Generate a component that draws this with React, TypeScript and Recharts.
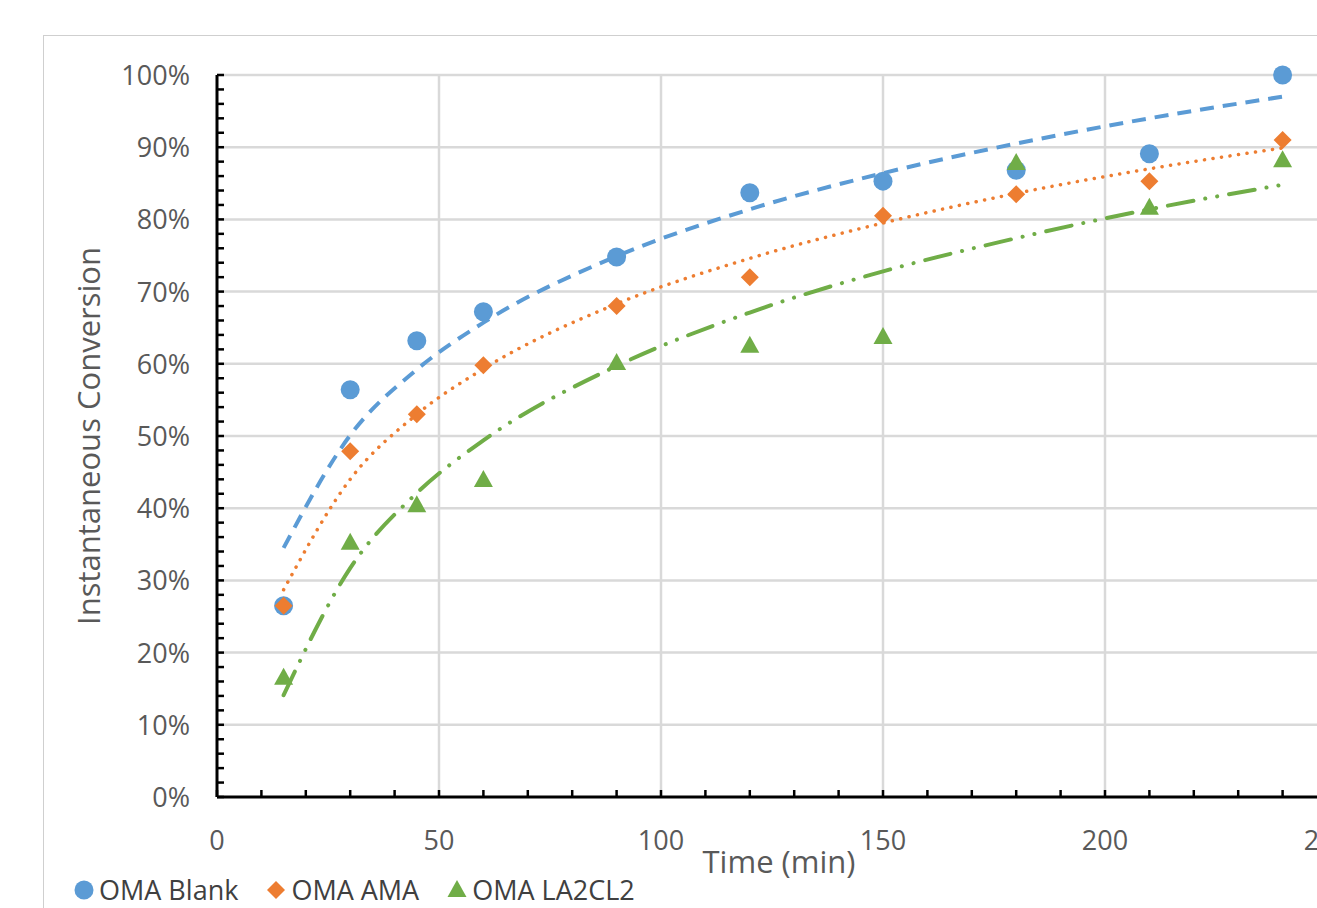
import { ComposedChart, Scatter, Line, XAxis, YAxis, ReferenceLine } from "recharts";

const TIMES = [15, 30, 45, 60, 90, 120, 150, 180, 210, 240];

// measured conversions (%)
const BLANK = [26.5, 56.4, 63.2, 67.2, 74.8, 83.7, 85.3, 86.8, 89.1, 100];
const AMA = [26.5, 47.9, 53.0, 59.8, 68.0, 72.0, 80.5, 83.5, 85.3, 91.0];
const LA2CL2 = [16.5, 35.2, 40.4, 43.9, 60.1, 62.5, 63.7, 87.8, 81.6, 88.2];

// trendline values at each time
const BLANK_FIT = [34.5, 50.1, 59.2, 65.7, 74.9, 81.4, 86.4, 90.5, 94.0, 97.0];
const AMA_FIT = [28.7, 44.0, 53.0, 59.3, 68.3, 74.6, 79.5, 83.6, 87.0, 89.9];
const LA2CL2_FIT = [14.1, 31.7, 42.1, 49.4, 59.7, 67.1, 72.8, 77.4, 81.4, 84.8];

const X_TICKS = [0, 10, 20, 30, 40, 50, 60, 70, 80, 90, 100, 110, 120, 130, 140, 150, 160, 170, 180, 190, 200, 210, 220, 230, 240, 250];
const X_MAJOR = [50, 100, 150, 200];
const Y_TICKS = Array.from({ length: 51 }, (_, i) => i * 2);
const Y_MAJOR = [10, 20, 30, 40, 50, 60, 70, 80, 90, 100];

const SERIES = [
  { name: "OMA Blank", color: "#5b9bd5", shape: "circle" },
  { name: "OMA AMA", color: "#ed7d31", shape: "diamond" },
  { name: "OMA LA2CL2", color: "#70ad47", shape: "triangle" },
];

const data = TIMES.map((t, i) => ({
  t,
  blank: BLANK[i],
  ama: AMA[i],
  la: LA2CL2[i],
  blankFit: BLANK_FIT[i],
  amaFit: AMA_FIT[i],
  laFit: LA2CL2_FIT[i],
}));

const FONT = "'Open Sans', 'Noto Sans', sans-serif";
const TEXT = "#595959";
const GRID = "#d9d9d9";

function Marker({ cx, cy, shape, color }: any) {
  if (cx == null || cy == null) return null;
  if (shape === "circle") return <circle cx={cx} cy={cy} r={9.5} fill={color} />;
  if (shape === "diamond")
    return <polygon points={`${cx},${cy - 9} ${cx + 9},${cy} ${cx},${cy + 9} ${cx - 9},${cy}`} fill={color} />;
  return <polygon points={`${cx},${cy - 10} ${cx + 9.5},${cy + 7} ${cx - 9.5},${cy + 7}`} fill={color} />;
}

function XTick({ x, y, payload }: any) {
  const axisY = y - 8;
  const v = payload.value;
  return (
    <g>
      <line x1={x} x2={x} y1={axisY - 7} y2={axisY} stroke="#000" strokeWidth={2.5} />
      {v % 50 === 0 && (
        <text x={x} y={axisY + 53} textAnchor="middle" fill={TEXT} fontSize={27} fontFamily={FONT}>
          {v}
        </text>
      )}
    </g>
  );
}

function YTick({ x, y, payload }: any) {
  const axisX = x + 8;
  const v = payload.value;
  return (
    <g>
      <line x1={axisX} x2={axisX + 7} y1={y} y2={y} stroke="#000" strokeWidth={2.5} />
      {v % 10 === 0 && (
        <text x={axisX - 27} y={y + 10} textAnchor="end" fill={TEXT} fontSize={27} fontFamily={FONT}>
          {`${v}%`}
        </text>
      )}
    </g>
  );
}

export default function App() {
  return (
    <div
      style={{
        position: "absolute",
        left: 0,
        top: 0,
        width: 1317,
        height: 908,
        overflow: "hidden",
        background: "#fff",
      }}
    >
      <div
        style={{
          position: "absolute",
          left: 43,
          top: 35,
          width: 1400,
          height: 1000,
          border: "1.5px solid #cfcfcf",
        }}
      />
      <div style={{ position: "absolute", left: 0, top: 0 }}>
        <ComposedChart
          width={1360}
          height={908}
          data={data}
          margin={{ top: 75, right: 33, bottom: 51, left: 157 }}
        >
          {X_MAJOR.map((v) => (
            <ReferenceLine key={`vx${v}`} x={v} stroke={GRID} strokeWidth={2.5} />
          ))}
          {Y_MAJOR.map((v) => (
            <ReferenceLine key={`hy${v}`} y={v} stroke={GRID} strokeWidth={2.5} />
          ))}
          <XAxis
            type="number"
            dataKey="t"
            domain={[0, 250]}
            ticks={X_TICKS}
            interval={0}
            height={60}
            tickLine={false}
            axisLine={{ stroke: "#000", strokeWidth: 3 }}
            tick={<XTick />}
            label={{
              content: ({ viewBox }: any) => (
                <text
                  x={viewBox.x + viewBox.width / 2 + 7}
                  y={viewBox.y + 76}
                  textAnchor="middle"
                  fill={TEXT}
                  fontSize={31}
                  fontFamily={FONT}
                >
                  Time (min)
                </text>
              ),
            }}
          />
          <YAxis
            type="number"
            domain={[0, 100]}
            ticks={Y_TICKS}
            interval={0}
            width={60}
            tickLine={false}
            axisLine={{ stroke: "#000", strokeWidth: 3 }}
            tick={<YTick />}
            label={{
              content: ({ viewBox }: any) => {
                const cx = viewBox.x - 65;
                const cy = viewBox.y + viewBox.height / 2;
                return (
                  <text
                    x={cx}
                    y={cy}
                    transform={`rotate(-90 ${cx} ${cy})`}
                    textAnchor="middle"
                    dominantBaseline="middle"
                    fill={TEXT}
                    fontSize={31}
                    fontFamily={FONT}
                  >
                    Instantaneous Conversion
                  </text>
                );
              },
            }}
          />
          <Scatter
            name={SERIES[0].name}
            dataKey="blank"
            isAnimationActive={false}
            shape={(p: any) => <Marker {...p} shape="circle" color={SERIES[0].color} />}
          />
          <Scatter
            name={SERIES[1].name}
            dataKey="ama"
            isAnimationActive={false}
            shape={(p: any) => <Marker {...p} shape="diamond" color={SERIES[1].color} />}
          />
          <Scatter
            name={SERIES[2].name}
            dataKey="la"
            isAnimationActive={false}
            shape={(p: any) => <Marker {...p} shape="triangle" color={SERIES[2].color} />}
          />
          <Line
            type="monotone"
            dataKey="blankFit"
            stroke={SERIES[0].color}
            strokeWidth={4}
            strokeDasharray="14 9"
            dot={false}
            activeDot={false}
            legendType="none"
            isAnimationActive={false}
          />
          <Line
            type="monotone"
            dataKey="amaFit"
            stroke={SERIES[1].color}
            strokeWidth={3.5}
            strokeLinecap="round"
            strokeDasharray="0.1 8.5"
            dot={false}
            activeDot={false}
            legendType="none"
            isAnimationActive={false}
          />
          <Line
            type="monotone"
            dataKey="laFit"
            stroke={SERIES[2].color}
            strokeWidth={4}
            strokeLinecap="round"
            strokeDasharray="26 12 0.1 12 0.1 12"
            dot={false}
            activeDot={false}
            legendType="none"
            isAnimationActive={false}
          />
        </ComposedChart>
      </div>
      <div
        style={{
          position: "absolute",
          left: 73,
          top: 871,
          display: "flex",
          alignItems: "center",
          fontFamily: FONT,
          fontSize: 27,
          color: "#404040",
          whiteSpace: "nowrap",
          lineHeight: "38px",
        }}
      >
        {SERIES.map((s) => (
          <div key={s.name} style={{ display: "flex", alignItems: "center", marginRight: 27 }}>
            <svg width={22} height={22} style={{ marginRight: 4 }}>
              <Marker cx={11} cy={11} shape={s.shape} color={s.color} />
            </svg>
            <span>{s.name}</span>
          </div>
        ))}
      </div>
    </div>
  );
}
